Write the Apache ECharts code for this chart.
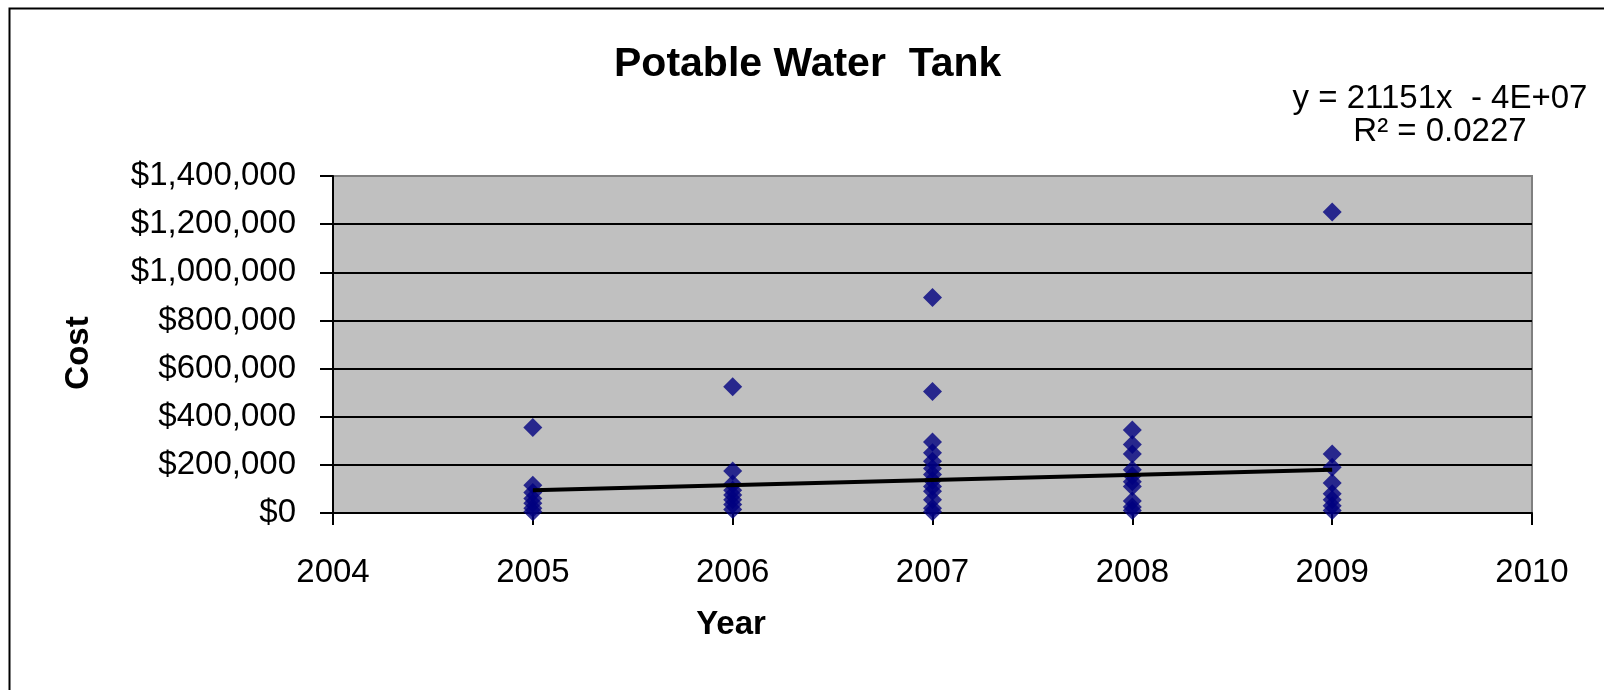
<!DOCTYPE html>
<html><head><meta charset="utf-8">
<script src="https://cdn.jsdelivr.net/npm/echarts@6/dist/echarts.min.js"></script>
<style>html,body{margin:0;padding:0;background:#fff}#c{width:1604px;height:690px}</style>
</head><body><div id="c"></div>
<script>
// ---- data ----
const years = [2005, 2006, 2007, 2008, 2009];
const cost2005 = [355000, 115000, 85000, 60000, 40000, 20000, 5000];
const cost2006 = [525000, 175000, 120000, 95000, 75000, 55000, 35000, 15000];
const cost2007 = [895000, 505000, 295000, 250000, 215000, 185000, 160000, 135000, 110000, 90000, 55000, 20000, 5000];
const cost2008 = [345000, 285000, 245000, 180000, 155000, 130000, 110000, 50000, 25000, 10000];
const cost2009 = [1250000, 245000, 190000, 125000, 80000, 55000, 30000, 10000];
const trendYears = [2005, 2009];
const trendCost = [94000, 180000];
const titleText = 'Potable Water  Tank';
const equationLines = ['y = 21151x  - 4E+07', 'R\u00B2 = 0.0227'];
const xRange = [2004, 2010];
const yRange = [0, 1400000];
const yStep = 200000;

const costsByYear = [cost2005, cost2006, cost2007, cost2008, cost2009];
const scatterData = [];
years.forEach((yr, i) => costsByYear[i].forEach(v => scatterData.push([yr, v])));
const trendData = trendYears.map((yr, i) => [yr, trendCost[i]]);

const FONT = '"Liberation Sans", Arial, sans-serif';
const fmtMoney = v => '$' + String(Math.round(v)).replace(/\B(?=(\d{3})+(?!\d))/g, ',');
const nLines = Math.round((yRange[1] - yRange[0]) / yStep) + 1;
const gridColors = [];
for (let i = 0; i < nLines; i++) gridColors.push(i === nLines - 1 ? '#808080' : '#000000');

const chart = echarts.init(document.getElementById('c'), null, {renderer: 'canvas'});
chart.setOption({
  animation: false,
  backgroundColor: '#ffffff',
  title: {
    text: titleText, left: 614, top: 44, padding: 0,
    textStyle: {fontFamily: FONT, fontSize: 41, fontWeight: 'bold', color: '#000'}
  },
  grid: {
    left: 333, right: 72, top: 176, bottom: 177,
    show: true, backgroundColor: '#C0C0C0', borderColor: '#808080', borderWidth: 2
  },
  xAxis: {
    type: 'value', min: xRange[0], max: xRange[1], interval: 1,
    axisLine: {show: true, onZero: false, lineStyle: {color: '#000', width: 2}},
    axisTick: {show: true, inside: false, length: 12, lineStyle: {color: '#000', width: 2}},
    axisLabel: {margin: 43, color: '#000', fontFamily: FONT, fontSize: 33, formatter: v => String(v)},
    splitLine: {show: false}
  },
  yAxis: {
    type: 'value', min: yRange[0], max: yRange[1], interval: yStep,
    axisLine: {show: true, onZero: false, lineStyle: {color: '#000', width: 2}},
    axisTick: {show: true, inside: false, length: 13, lineStyle: {color: '#000', width: 2}},
    axisLabel: {margin: 37, color: '#000', fontFamily: FONT, fontSize: 33, formatter: fmtMoney},
    splitLine: {show: true, lineStyle: {color: gridColors, width: 2}}
  },
  series: [
    {
      type: 'scatter', data: scatterData, symbol: 'diamond', symbolSize: 19,
      itemStyle: {color: '#000080'}, z: 3
    },
    {
      type: 'line', data: trendData, symbol: 'none', z: 5,
      lineStyle: {color: '#000', width: 4}
    }
  ],
  graphic: [
    {type: 'rect', left: 7, top: 6, z: 100, silent: true,
     shape: {x: 0, y: 0, width: 1700, height: 800},
     style: {fill: 'none', stroke: '#000', lineWidth: 2}},
    {type: 'text', x: 79, y: 353, rotation: Math.PI / 2, z: 10,
     style: {text: 'Cost', fontFamily: FONT, fontSize: 33, fontWeight: 'bold', fill: '#000',
             align: 'center', verticalAlign: 'middle'}},
    {type: 'text', x: 731, y: 625, z: 10,
     style: {text: 'Year', fontFamily: FONT, fontSize: 33, fontWeight: 'bold', fill: '#000',
             align: 'center', verticalAlign: 'middle'}},
    {type: 'text', x: 1440, y: 99, z: 10,
     style: {text: equationLines[0], fontFamily: FONT, fontSize: 33, fill: '#000',
             align: 'center', verticalAlign: 'middle'}},
    {type: 'text', x: 1440, y: 132, z: 10,
     style: {text: equationLines[1], fontFamily: FONT, fontSize: 33, fill: '#000',
             align: 'center', verticalAlign: 'middle'}}
  ]
});
</script></body></html>
